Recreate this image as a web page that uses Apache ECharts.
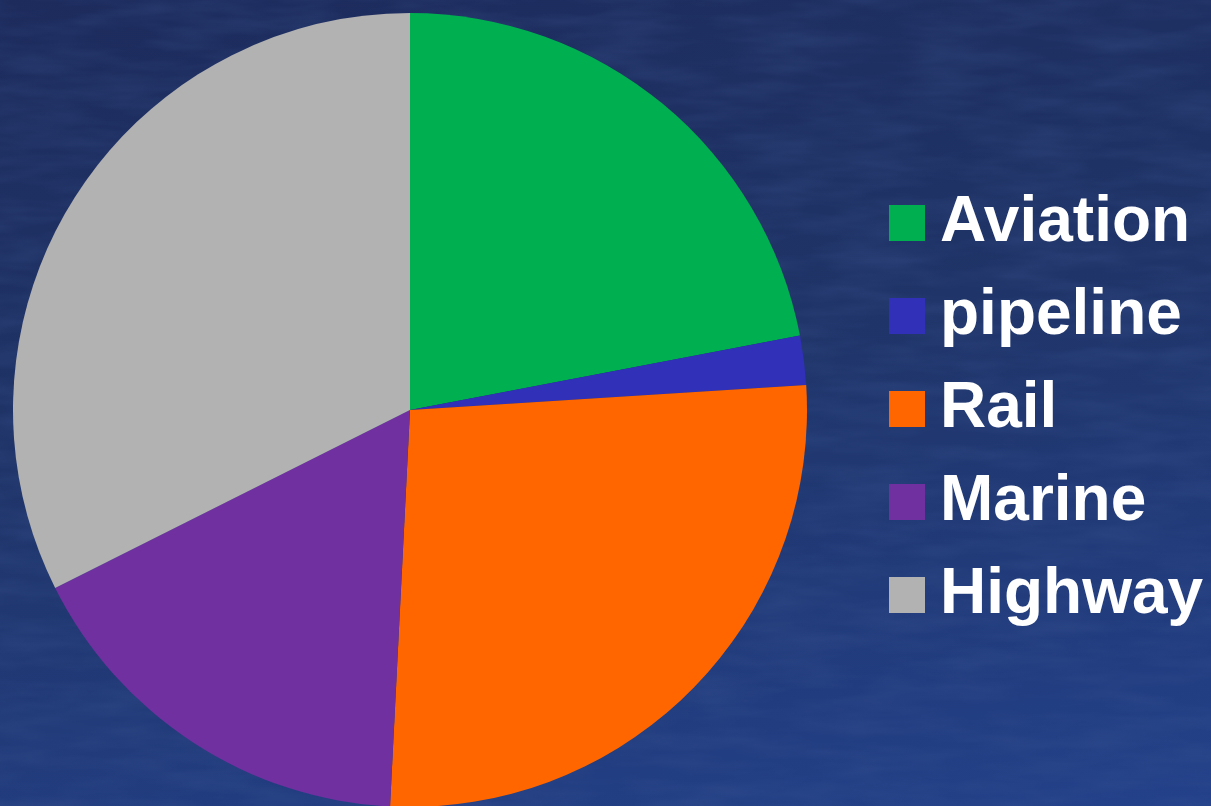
<!DOCTYPE html>
<html>
<head>
<meta charset="utf-8">
<script src="https://cdn.jsdelivr.net/npm/echarts@6/dist/echarts.min.js"></script>
<style>
html,body{margin:0;padding:0;width:1211px;height:806px;overflow:hidden;}
body{background:linear-gradient(170deg,#1d2b5c 0%,#1f3468 45%,#23418a 100%);position:relative;}
#tex{position:absolute;left:0;top:0;width:1211px;height:806px;opacity:0.35;
background-image:url("data:image/svg+xml;utf8,<svg xmlns='http://www.w3.org/2000/svg' width='1211' height='806'><filter id='n'><feTurbulence type='fractalNoise' baseFrequency='0.012 0.06' numOctaves='3' seed='4'/><feColorMatrix values='0 0 0 0 0.05  0 0 0 0 0.1  0 0 0 0 0.3  0 0 0 1.4 -0.45'/></filter><rect width='100%' height='100%' filter='url(%23n)'/></svg>");}
#main{position:absolute;left:0;top:0;width:1211px;height:806px;}
</style>
</head>
<body>
<div id="tex"></div>
<div id="main"></div>
<script>
var categories = ['Aviation', 'pipeline', 'Rail', 'Marine', 'Highway'];
var values = [22.0, 2.0, 26.8, 16.8, 32.4];
var colors = ['#00b050', '#3030b8', '#ff6600', '#7030a0', '#b2b2b2'];

var chart = echarts.init(document.getElementById('main'), null, {renderer: 'canvas'});
var data = categories.map(function (c, i) {
  return {name: c, value: values[i], itemStyle: {color: colors[i]}};
});
chart.setOption({
  backgroundColor: 'transparent',
  animation: false,
  legend: {
    orient: 'vertical',
    left: 889,
    top: 191,
    padding: 0,
    itemWidth: 36,
    itemHeight: 36,
    itemGap: 29,
    icon: 'rect',
    selectedMode: false,
    textStyle: {
      color: '#ffffff',
      fontFamily: '"Liberation Sans", Arial, sans-serif',
      fontWeight: 'bold',
      fontSize: 64,
      padding: [0, 0, 0, 10]
    },
    data: categories
  },
  series: [{
    type: 'pie',
    center: [410, 410],
    radius: [0, 397],
    startAngle: 90,
    clockwise: true,
    label: {show: false},
    labelLine: {show: false},
    itemStyle: {borderWidth: 0},
    emphasis: {disabled: true},
    data: data
  }]
});
</script>
</body>
</html>
